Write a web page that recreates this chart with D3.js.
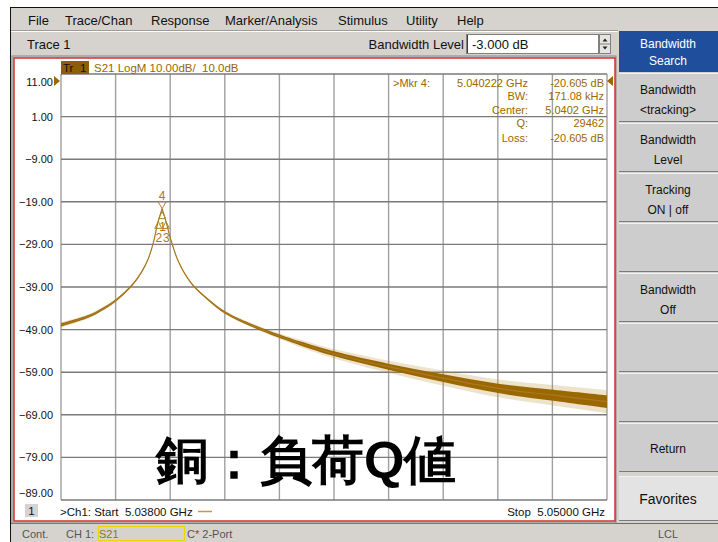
<!DOCTYPE html>
<html>
<head>
<meta charset="utf-8">
<script src="https://cdn.jsdelivr.net/npm/d3@7"></script>
<style>
  body { margin: 0; background: #fff; }
  svg text { font-family: "Liberation Sans", Arial, sans-serif; }
</style>
</head>
<body>
<div id="vna"></div>
<script>
var freqGHz = [5.03800, 5.03860, 5.03886, 5.03921, 5.03955, 5.03977, 5.03992, 5.04003, 5.04010, 5.040137,
               5.040222, 5.040307, 5.04040, 5.04058, 5.04087, 5.04124, 5.04161, 5.04226, 5.04292, 5.04325,
               5.04398, 5.04519, 5.04640, 5.04761, 5.04882, 5.05000];
var traceDb = [-47.9, -45.9, -44.5, -42.1, -38.7, -35.5, -32.3, -28.6, -25.2, -23.6,
               -20.6, -23.6, -27.4, -33.0, -38.2, -42.0, -45.0, -48.3, -51.0, -52.2,
               -54.6, -57.7, -60.4, -62.8, -64.4, -65.9];
var noiseDb = [0.35, 0.3, 0.3, 0.25, 0.2, 0.15, 0.1, 0.05, 0.05, 0.05,
               0.05, 0.05, 0.05, 0.1, 0.15, 0.2, 0.25, 0.3, 0.4, 0.45,
               0.55, 0.7, 0.9, 1.1, 1.3, 1.5];
var spikeDb = [0.6, 0.5, 0.45, 0.4, 0.3, 0.2, 0.15, 0.1, 0.1, 0.1,
               0.1, 0.1, 0.1, 0.15, 0.2, 0.3, 0.4, 0.5, 0.7, 0.9,
               1.1, 1.4, 1.8, 2.1, 2.4, 2.7];

var yTicks = [11, 1, -9, -19, -29, -39, -49, -59, -69, -79, -89];
var startGHz = 5.038, stopGHz = 5.050;

var markerIds = ["4", "1", "2", "3"];
var markerFreq = [5.040222, 5.040222, 5.040137, 5.040307];
var markerDb = [-20.605, -20.605, -23.6, -23.6];
var markerUp = [false, true, true, true];

var readLabels = [">Mkr 4:", "BW:", "Center:", "Q:", "Loss:"];
var readMid = ["5.040222 GHz", "", "", "", ""];
var readValues = ["-20.605 dB", "171.08 kHz", "5.0402 GHz", "29462", "-20.605 dB"];

var menuItems = ["File", "Trace/Chan", "Response", "Marker/Analysis", "Stimulus", "Utility", "Help"];
var menuX = [28, 65, 151, 225, 338, 406, 457];
var softKeys = [["Bandwidth", "Search"], ["Bandwidth", "<tracking>"], ["Bandwidth", "Level"], ["Tracking", "ON | off"],
                [], ["Bandwidth", "Off"], [], [], ["Return"], ["Favorites"]];

var W = 718, H = 542;
var gold = "#9a6700";
var svg = d3.select("#vna").append("svg").attr("width", W).attr("height", H);

// window chrome
svg.append("rect").attr("width", W).attr("height", H).attr("fill", "#fff");
svg.append("rect").attr("x", 11).attr("y", 8).attr("width", W - 11).attr("height", H - 8).attr("fill", "#d6d3ce");
svg.append("line").attr("x1", 10.5).attr("x2", 10.5).attr("y1", 8).attr("y2", H).attr("stroke", "#111");
svg.append("line").attr("x1", 10).attr("x2", W).attr("y1", 7.5).attr("y2", 7.5).attr("stroke", "#111");
svg.append("line").attr("x1", 11).attr("x2", 618).attr("y1", 30.5).attr("y2", 30.5).attr("stroke", "#a09c95");
svg.append("line").attr("x1", 11).attr("x2", 618).attr("y1", 31.5).attr("y2", 31.5).attr("stroke", "#fff");

svg.selectAll("text.menu").data(menuItems).enter().append("text")
  .attr("x", (d, i) => menuX[i]).attr("y", 25)
  .attr("font-size", 13).attr("fill", "#111").text(d => d);

svg.append("text").attr("x", 27).attr("y", 49).attr("font-size", 13).attr("fill", "#111").text("Trace 1");
svg.append("text").attr("x", 464).attr("y", 49).attr("text-anchor", "end").attr("font-size", 13).attr("fill", "#111").text("Bandwidth Level");
svg.append("rect").attr("x", 466.5).attr("y", 34.5).attr("width", 132).attr("height", 19).attr("fill", "#fff").attr("stroke", "#808080");
svg.append("line").attr("x1", 467.5).attr("x2", 467.5).attr("y1", 35).attr("y2", 53).attr("stroke", "#404040");
svg.append("text").attr("x", 472).attr("y", 49).attr("font-size", 13).attr("fill", "#111").text("-3.000 dB");
svg.append("rect").attr("x", 599.5).attr("y", 34.5).attr("width", 11).attr("height", 19).attr("fill", "#e6e4e0").attr("stroke", "#808080");
svg.append("line").attr("x1", 600).attr("x2", 610).attr("y1", 44).attr("y2", 44).attr("stroke", "#808080");
svg.append("path").attr("d", "M602.5,41.5 L605,38.5 L607.5,41.5 Z M602.5,46.5 L605,49.5 L607.5,46.5 Z").attr("fill", "#222");

// soft keys
var keyTop = [31, 73, 123, 173, 223, 273, 323, 373, 423, 476];
var keyBot = [72, 122, 172, 222, 272, 322, 372, 422, 472, 521];
var keys = svg.selectAll("g.key").data(softKeys).enter().append("g");
keys.append("rect")
  .attr("x", 619).attr("y", (d, i) => keyTop[i]).attr("width", W - 619)
  .attr("height", (d, i) => keyBot[i] - keyTop[i])
  .attr("fill", (d, i) => i === 0 ? "#1f4f9c" : (i === 9 ? "#e3e3e3" : "#cdcdcd"));
keys.append("line")
  .attr("x1", 619).attr("x2", W).attr("y1", (d, i) => keyTop[i] + 0.5).attr("y2", (d, i) => keyTop[i] + 0.5)
  .attr("stroke", (d, i) => i === 0 ? "#1f4f9c" : "#f2f2f2");
keys.append("line")
  .attr("x1", 619).attr("x2", W).attr("y1", (d, i) => keyBot[i] - 0.5).attr("y2", (d, i) => keyBot[i] - 0.5)
  .attr("stroke", (d, i) => i === 0 ? "#1f4f9c" : "#7a7a7a");
keys.each(function(d, i) {
  var cy = (keyTop[i] + keyBot[i]) / 2;
  var g = d3.select(this);
  d.forEach(function(line, j) {
    var y;
    if (d.length === 1) y = cy + 5;
    else if (i === 0) y = cy + (j === 0 ? -3.5 : 13.5);
    else y = cy + (j === 0 ? -4 : 16);
    g.append("text").attr("x", 668).attr("y", y).attr("text-anchor", "middle")
      .attr("font-size", i === 9 ? 14 : 12)
      .attr("fill", i === 0 ? "#fff" : "#111").text(line);
  });
});

// status bar
svg.append("line").attr("x1", 11).attr("x2", W).attr("y1", 523.5).attr("y2", 523.5).attr("stroke", "#6a6a6a");
svg.append("text").attr("x", 22).attr("y", 538).attr("font-size", 11).attr("fill", "#555").text("Cont.");
svg.append("text").attr("x", 66).attr("y", 538).attr("font-size", 11).attr("fill", "#555").text("CH 1:");
svg.append("rect").attr("x", 98.5).attr("y", 526.5).attr("width", 86).attr("height", 14).attr("fill", "none").attr("stroke", "#e8d800");
svg.append("text").attr("x", 99).attr("y", 538).attr("font-size", 11).attr("fill", "#8a7a20").text("S21");
svg.append("text").attr("x", 187).attr("y", 538).attr("font-size", 11).attr("fill", "#555").text("C* 2-Port");
svg.append("text").attr("x", 668).attr("y", 538).attr("text-anchor", "middle").attr("font-size", 11).attr("fill", "#555").text("LCL");

// plot panel
svg.append("rect").attr("x", 12).attr("y", 56).attr("width", 604).attr("height", 467).attr("fill", "none").attr("stroke", "#888");
svg.append("rect").attr("x", 14).attr("y", 58).attr("width", 601).attr("height", 463).attr("fill", "#fff")
  .attr("stroke", "#d03030").attr("stroke-width", 1.5);

var x = d3.scaleLinear().domain([startGHz, stopGHz]).range([61, 607]);
var y = d3.scaleLinear().domain([-89, 11]).range([500, 74]);

var xDivs = d3.range(11).map(i => startGHz + i * (stopGHz - startGHz) / 10);

svg.append("g").selectAll("line").data(xDivs).enter().append("line")
  .attr("x1", d => x(d)).attr("x2", d => x(d)).attr("y1", y(11)).attr("y2", y(-89))
  .attr("stroke", "#a0a0a0").attr("stroke-width", 1.4);
svg.append("g").selectAll("line").data(yTicks).enter().append("line")
  .attr("x1", x(startGHz)).attr("x2", x(stopGHz)).attr("y1", d => y(d)).attr("y2", d => y(d))
  .attr("stroke", "#7a7a7a").attr("stroke-width", 1.4);

var yAxis = svg.append("g").attr("transform", "translate(" + x(startGHz) + ",0)")
  .call(d3.axisLeft(y).tickValues(yTicks).tickSize(0).tickPadding(8).tickFormat(d3.format(".2f")));
yAxis.select(".domain").remove();
yAxis.selectAll("text").attr("font-size", 11).attr("fill", "#111")
  .attr("font-family", "'Liberation Sans', Arial, sans-serif")
  .attr("dy", d => d === 11 ? "1.0em" : (d === -89 ? "-0.3em" : "0.32em"));

// reference arrows
svg.append("path").attr("d", "M54,76 L60,81 L54,86 Z").attr("fill", gold);
svg.append("path").attr("d", "M613,76 L607,81 L613,86 Z").attr("fill", gold);

// header
svg.append("rect").attr("x", 61).attr("y", 61).attr("width", 28).attr("height", 13).attr("fill", "#8d5e08");
svg.append("text").attr("x", 63).attr("y", 71.5).attr("font-size", 11.5).attr("fill", "#1a1000").text("Tr");
svg.append("text").attr("x", 80).attr("y", 71.5).attr("font-size", 11.5).attr("fill", "#1a1000").text("1");
svg.append("text").attr("x", 94).attr("y", 71.5).attr("font-size", 11.5).attr("fill", gold)
  .attr("style", "white-space:pre").text("S21 LogM 10.00dB/  10.0dB");

// marker readout
var rowY = [86.5, 99.5, 114, 127, 142];
var ro = svg.append("g").attr("font-size", 11).attr("fill", gold);
ro.selectAll("text.lab").data(readLabels).enter().append("text")
  .attr("x", (d, i) => i === 0 ? 393 : 528).attr("y", (d, i) => rowY[i])
  .attr("text-anchor", (d, i) => i === 0 ? "start" : "end").text(d => d);
ro.selectAll("text.mid").data(readMid).enter().append("text")
  .attr("x", 528).attr("y", (d, i) => rowY[i]).attr("text-anchor", "end").text(d => d);
ro.selectAll("text.val").data(readValues).enter().append("text")
  .attr("x", 604).attr("y", (d, i) => rowY[i]).attr("text-anchor", "end").text(d => d);

// trace, drawn as two halves meeting at the resonance peak
var pts = freqGHz.map((f, i) => ({f: f, db: traceDb[i], n: noiseDb[i], s: spikeDb[i]}));
var peakIdx = traceDb.indexOf(d3.max(traceDb));
var halves = [pts.slice(0, peakIdx + 1), pts.slice(peakIdx)];
var curve = d3.curveCatmullRom.alpha(0.5);
var trace = svg.append("g");
halves.forEach(function(h) {
  trace.append("path").datum(h)
    .attr("d", d3.area().curve(curve).x(d => x(d.f)).y0(d => y(d.db - d.s)).y1(d => y(d.db + d.s)))
    .attr("fill", "#b98a2c").attr("opacity", 0.25);
  trace.append("path").datum(h)
    .attr("d", d3.area().curve(curve).x(d => x(d.f)).y0(d => y(d.db - d.n)).y1(d => y(d.db + d.n)))
    .attr("fill", gold);
  trace.append("path").datum(h)
    .attr("d", d3.line().curve(curve).x(d => x(d.f)).y(d => y(d.db)))
    .attr("fill", "none").attr("stroke", "#a97a20").attr("stroke-width", 1.2);
});

// markers
var mk = svg.append("g").attr("fill", "none").attr("stroke", "#b08430").attr("stroke-width", 1);
markerIds.forEach(function(id, i) {
  var mx = x(markerFreq[i]), my = y(markerDb[i]);
  if (!markerUp[i]) {
    mk.append("path").attr("d", "M" + (mx - 4) + "," + (my - 7) + " L" + (mx + 4) + "," + (my - 7) + " L" + mx + "," + my + " Z");
    svg.append("text").attr("x", mx).attr("y", my - 9).attr("text-anchor", "middle")
      .attr("font-size", 12).attr("fill", "#a97a20").text(id);
  } else {
    var ty = id === "1" ? my + 3 : my;
    mk.append("path").attr("d", "M" + mx + "," + ty + " L" + (mx - 3.5) + "," + (ty + 7) + " L" + (mx + 3.5) + "," + (ty + 7) + " Z");
    svg.append("text").attr("x", mx + 0.5).attr("y", ty + (id === "1" ? 19 : 21))
      .attr("text-anchor", "middle").attr("font-size", 12).attr("fill", "#a97a20").text(id);
  }
});

// footer inside plot
svg.append("rect").attr("x", 25).attr("y", 504).attr("width", 13).attr("height", 13).attr("fill", "#d4d4d4");
svg.append("text").attr("x", 31.5).attr("y", 515).attr("text-anchor", "middle").attr("font-size", 11.5).attr("fill", "#111").text("1");
svg.append("text").attr("x", 60).attr("y", 515.5).attr("font-size", 11.5).attr("fill", "#111")
  .attr("style", "white-space:pre").text(">Ch1: Start  5.03800 GHz");
svg.append("line").attr("x1", 198).attr("x2", 212).attr("y1", 511.5).attr("y2", 511.5).attr("stroke", "#c49a40").attr("stroke-width", 1.5);
svg.append("text").attr("x", 605).attr("y", 515.5).attr("text-anchor", "end").attr("font-size", 11.5).attr("fill", "#111")
  .attr("style", "white-space:pre").text("Stop  5.05000 GHz");

// caption
svg.append("text").attr("x", 156).attr("y", 478)
  .attr("font-family", "'Noto Sans CJK JP', sans-serif").attr("font-weight", "bold")
  .attr("font-size", 52).attr("fill", "#000").text("銅：負荷Q値");
</script>
</body>
</html>
